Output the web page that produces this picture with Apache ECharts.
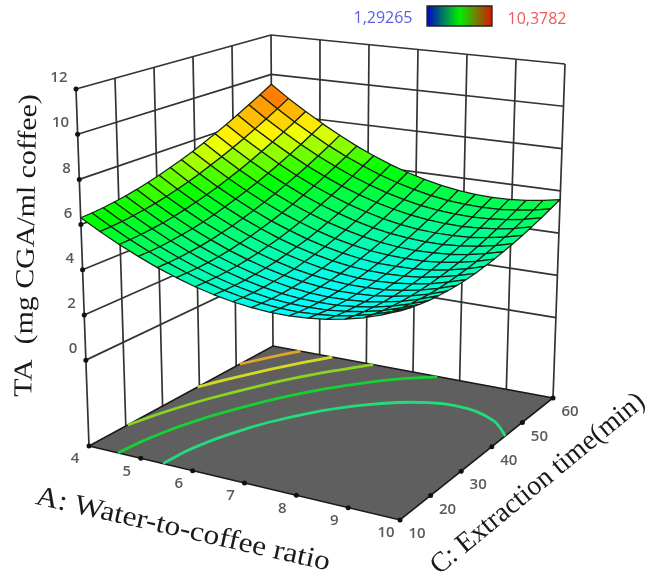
<!DOCTYPE html>
<html>
<head>
<meta charset="utf-8">
<style>html,body{margin:0;padding:0;background:#fff}#c{width:651px;height:583px}</style>
<script src="https://cdn.jsdelivr.net/npm/echarts@6/dist/echarts.min.js"></script>
</head>
<body>
<div id="c"></div>
<script>
const aTicks = [4, 5, 6, 7, 8, 9, 10];
const cTicks = [10, 20, 30, 40, 50, 60];
const zTicks = [0, 2, 4, 6, 8, 10, 12];
const minLabel = '1,29265';
const maxLabel = '10,3782';
const valueMin = 1.29265;
const valueMax = 10.3782;
const aTitle = 'A: Water-to-coffee ratio';
const cTitle = 'C: Extraction time(min)';
const zTitle = 'TA  (mg CGA/ml coffee)';

const gridA = [4,4.353,4.706,5.059,5.412,5.765,6.118,6.471,6.824,7.176,7.529,7.882,8.235,8.588,8.941,9.294,9.647,10];
const gridC = [10,12.94,15.88,18.82,21.76,24.71,27.65,30.59,33.53,36.47,39.41,42.35,45.29,48.24,51.18,54.12,57.06,60];
// TA: one row per gridC value, one column per gridA value
const taRows = [
[6.30,5.78,5.31,4.89,4.51,4.19,3.91,3.68,3.50,3.37,3.28,3.25,3.26,3.32,3.43,3.58,3.79,4.04],
[6.33,5.81,5.33,4.90,4.52,4.19,3.91,3.67,3.48,3.35,3.25,3.21,3.22,3.27,3.38,3.53,3.73,3.98],
[6.38,5.85,5.37,4.93,4.55,4.21,3.92,3.68,3.49,3.34,3.25,3.20,3.20,3.25,3.35,3.49,3.69,3.93],
[6.45,5.92,5.43,4.99,4.60,4.25,3.96,3.71,3.51,3.36,3.26,3.21,3.20,3.25,3.34,3.48,3.67,3.90],
[6.54,6.00,5.50,5.06,4.66,4.31,4.01,3.76,3.56,3.40,3.29,3.23,3.22,3.26,3.35,3.48,3.67,3.90],
[6.65,6.10,5.60,5.15,4.75,4.39,4.09,3.83,3.62,3.46,3.35,3.28,3.27,3.30,3.38,3.51,3.68,3.91],
[6.78,6.23,5.72,5.26,4.86,4.50,4.18,3.92,3.70,3.54,3.42,3.35,3.33,3.35,3.43,3.55,3.72,3.94],
[6.93,6.37,5.86,5.39,4.98,4.61,4.30,4.03,3.81,3.63,3.51,3.43,3.41,3.43,3.50,3.61,3.78,3.99],
[7.10,6.53,6.02,5.55,5.13,4.76,4.43,4.16,3.93,3.75,3.62,3.54,3.51,3.52,3.58,3.70,3.86,4.06],
[7.28,6.71,6.19,5.72,5.29,4.91,4.59,4.30,4.07,3.89,3.75,3.66,3.63,3.63,3.69,3.80,3.95,4.16],
[7.49,6.92,6.39,5.91,5.48,5.09,4.76,4.47,4.23,4.04,3.90,3.81,3.77,3.77,3.82,3.92,4.07,4.27],
[7.72,7.14,6.60,6.12,5.68,5.29,4.95,4.66,4.42,4.22,4.07,3.97,3.92,3.92,3.97,4.06,4.21,4.40],
[7.97,7.38,6.84,6.35,5.91,5.51,5.17,4.87,4.62,4.42,4.26,4.16,4.10,4.09,4.14,4.22,4.36,4.55],
[8.23,7.64,7.10,6.60,6.15,5.75,5.40,5.09,4.84,4.63,4.47,4.36,4.30,4.29,4.32,4.41,4.54,4.72],
[8.52,7.92,7.37,6.87,6.41,6.01,5.65,5.34,5.08,4.87,4.70,4.59,4.52,4.50,4.53,4.61,4.73,4.91],
[8.83,8.22,7.67,7.16,6.70,6.29,5.92,5.61,5.34,5.12,4.95,4.83,4.76,4.73,4.76,4.83,4.95,5.12],
[9.15,8.54,7.98,7.47,7.00,6.58,6.22,5.89,5.62,5.40,5.22,5.09,5.02,4.99,5.00,5.07,5.18,5.35],
[9.50,8.88,8.32,7.80,7.33,6.90,6.53,6.20,5.92,5.69,5.51,5.38,5.29,5.26,5.27,5.33,5.44,5.59]
];
// Contour traces on the floor, [A, C]
const contourTeal = [[5.43,10],[5.46,16],[5.5,18.6],[5.6,22.9],[5.8,28.7],[6,32.9],[6.5,40.3],[7,45.1],[7.5,48.4],[8,50.4],[8.5,51.2],[9,50.6],[9.5,48.6],[9.75,46.7],[10,44.4]];
const contourGreen = [[4.56,10],[4.6,15.4],[4.7,21.3],[4.8,25.3],[5,31.2],[5.5,41.2],[6,48.1],[6.5,53.2],[7,57],[7.5,59.8],[7.52,60]];
const contourLime = [[4,20.5],[4.1,24.9],[4.25,30.1],[4.5,36.6],[5,46.2],[5.5,53.2],[6,58.6],[6.15,60]];
const contourYellow = [[4,39.5],[4.25,44.8],[4.5,49.2],[4.75,53.1],[5,56.6],[5.25,59.7],[5.27,60]];
const contourOrange = [[4,51],[4.2,54.3],[4.4,57.4],[4.56,59.6],[4.59,60]];

// ---- view of the box
const zFloor = -3.8;
const view = {
  b00:[89,446], b10:[400,520], b11:[553,398], b01:[273,346],
  t00:[76,89],  t10:[403,98],  t11:[565,64],  t01:[271,35]
};
function project(A, C, z) {
  const u = (A - 4) / 6, v = (C - 10) / 50, w = (z - zFloor) / (12 - zFloor);
  const bl = (p00, p10, p11, p01, k) =>
    (1-u)*(1-v)*p00[k] + u*(1-v)*p10[k] + u*v*p11[k] + (1-u)*v*p01[k];
  const out = [];
  for (let k = 0; k < 2; k++) {
    const b = bl(view.b00, view.b10, view.b11, view.b01, k);
    const t = bl(view.t00, view.t10, view.t11, view.t01, k);
    out.push(b + (t - b) * w);
  }
  return out;
}
const heatAt = [0, 0.21, 0.53, 0.70, 1];
const heatRgb = [[0,0,255],[0,255,255],[0,255,0],[255,255,0],[255,0,0]];
function heat(v) {
  const t = Math.max(0, Math.min(1, (v - valueMin) / (valueMax - valueMin)));
  let n = 0;
  while (n < 3 && t > heatAt[n+1]) n++;
  const f = (t - heatAt[n]) / (heatAt[n+1] - heatAt[n]);
  const a = heatRgb[n], b = heatRgb[n+1];
  return 'rgb(' + [0,1,2].map(i => Math.round(a[i] + (b[i]-a[i]) * f)).join(',') + ')';
}

// ---- marks as drawing items, in data space
const INK = '#333333';
const wallLines = [];
cTicks.forEach(c => wallLines.push([[4,c,zFloor],[4,c,12]]));
aTicks.forEach(a => { if (a > 4) wallLines.push([[a,60,zFloor],[a,60,12]]); });
zTicks.forEach(z => {
  wallLines.push([[4,10,z],[4,60,z]]);
  wallLines.push([[4,60,z],[10,60,z]]);
});
const contours = [
  [contourTeal,'#22dc7c'], [contourGreen,'#16d034'], [contourLime,'#8cd422'],
  [contourYellow,'#d6d826'], [contourOrange,'#e2a42c']
];
const cells = [];
for (let j = gridC.length - 2; j >= 0; j--) for (let i = 0; i < gridA.length - 1; i++) cells.push([i, j]);

const dots = [];
zTicks.forEach(z => dots.push([4,10,z]));
aTicks.forEach(a => dots.push([a,10,zFloor]));
cTicks.forEach(c => { if (c > 10) dots.push([10,c,zFloor]); });

const tickText = [];
zTicks.forEach(z => tickText.push({p:[4,10,z], dx:-8.5, dy:-11, t:String(z), align:'right'}));
aTicks.forEach(a => tickText.push({p:[a,10,zFloor], dx:-14, dy:13, t:String(a), align:'center'}));
cTicks.forEach(c => tickText.push({p:[10,c,zFloor], dx:17, dy:14, t:String(c), align:'center'}));

function layer(items, draw, z) {
  return {
    type:'custom', coordinateSystem:'cartesian2d', clip:false, silent:true, z:z,
    data: items.map((_, k) => [k, 0]),
    encode:{x:0, y:1},
    renderItem:(params, api) => draw(items[api.value(0)], p => {
      const q = project(p[0], p[1], p[2]);
      return api.coord(q);
    }, api)
  };
}

const option = {
  animation:false,
  backgroundColor:'#ffffff',
  grid:{left:0, right:0, top:0, bottom:0},
  xAxis:{type:'value', min:0, max:651, show:false},
  yAxis:{type:'value', min:0, max:583, inverse:true, show:false},
  series:[
    layer(wallLines, (l, P) => {
      const a = P(l[0]), b = P(l[1]);
      return {type:'line', shape:{x1:a[0],y1:a[1],x2:b[0],y2:b[1]}, style:{stroke:INK, lineWidth:1.7}};
    }, 1),
    layer(['floor'], (_, P) => ({
      type:'polygon',
      shape:{points:[P([4,10,zFloor]),P([10,10,zFloor]),P([10,60,zFloor]),P([4,60,zFloor])]},
      style:{fill:'#5f5f5f', stroke:'#1a1a1a', lineWidth:1.6}
    }), 2),
    layer(contours, (c, P) => ({
      type:'polyline',
      shape:{points:c[0].map(d => P([d[0], d[1], zFloor])), smooth:0.2},
      style:{fill:null, stroke:c[1], lineWidth:2.8}
    }), 3),
    layer(dots, (d, P) => {
      const a = P(d);
      return {type:'circle', shape:{cx:a[0], cy:a[1], r:2.5}, style:{fill:'#111'}};
    }, 4),
    layer(cells, (c, P) => {
      const i = c[0], j = c[1];
      const v = (taRows[j][i] + taRows[j][i+1] + taRows[j+1][i] + taRows[j+1][i+1]) / 4;
      return {
        type:'polygon',
        shape:{points:[
          P([gridA[i],gridC[j],taRows[j][i]]),
          P([gridA[i+1],gridC[j],taRows[j][i+1]]),
          P([gridA[i+1],gridC[j+1],taRows[j+1][i+1]]),
          P([gridA[i],gridC[j+1],taRows[j+1][i]])
        ]},
        style:{fill:heat(v), stroke:'#142414', lineWidth:1.25, lineJoin:'round'}
      };
    }, 5),
    layer(tickText, (t, P) => {
      const a = P(t.p);
      return {type:'text', x:a[0]+t.dx, y:a[1]+t.dy,
        style:{text:t.t, fill:'#5a5a5a', font:'600 15px "Open Sans", sans-serif', align:t.align, verticalAlign:'middle'}};
    }, 6)
  ],
  graphic:[
    {type:'text', x:383, y:18, style:{text:minLabel, fill:'#5c5ce6', font:'16px "Open Sans", sans-serif', align:'center', verticalAlign:'middle'}},
    {type:'text', x:537, y:19, style:{text:maxLabel, fill:'#ee5a5a', font:'16px "Open Sans", sans-serif', align:'center', verticalAlign:'middle'}},
    {type:'rect', shape:{x:427, y:6, width:65, height:20},
      style:{stroke:'#222', lineWidth:1.3,
        fill:new echarts.graphic.LinearGradient(0,0,1,0,[
          {offset:0,color:'#0000c8'},{offset:0.5,color:'#00f000'},{offset:1,color:'#e01000'}])}},
    {type:'text', x:183, y:530, originX:0, originY:0, scaleX:1.12, rotation:-12.8*Math.PI/180, style:{text:aTitle, fill:'#1a1a1a', font:'28px "Liberation Serif", serif', align:'center', verticalAlign:'middle'}},
    {type:'text', x:538, y:484, rotation:39.5*Math.PI/180, style:{text:cTitle, fill:'#1a1a1a', font:'28px "Liberation Serif", serif', align:'center', verticalAlign:'middle'}},
    {type:'text', x:27, y:245.5, scaleX:1.15, rotation:89*Math.PI/180, style:{text:zTitle, fill:'#1a1a1a', font:'26px "Liberation Serif", serif', align:'center', verticalAlign:'middle'}}
  ]
};
echarts.init(document.getElementById('c'), null, {renderer:'canvas'}).setOption(option);
</script>
</body>
</html>
